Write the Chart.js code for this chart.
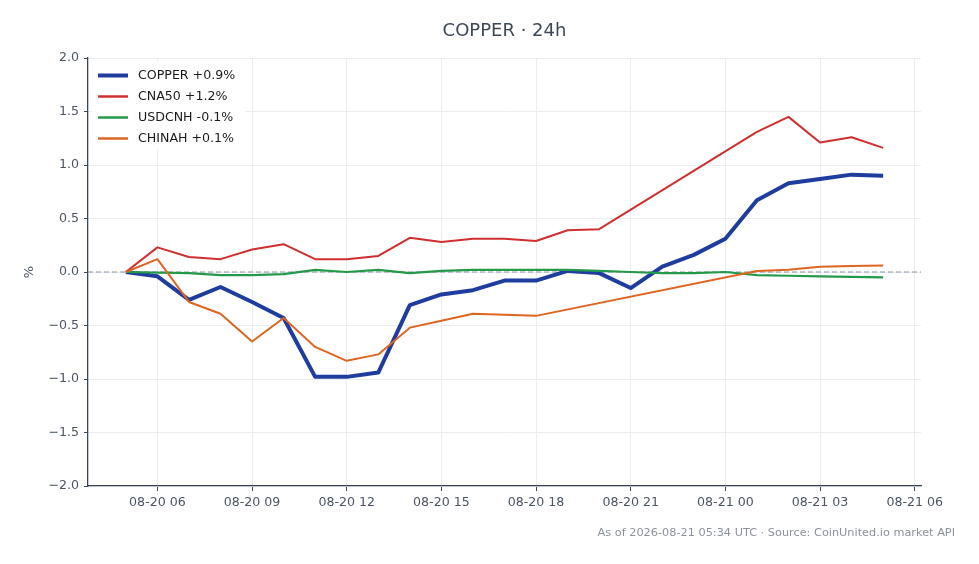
<!DOCTYPE html>
<html>
<head>
<meta charset="utf-8">
<title>COPPER · 24h</title>
<script src="https://cdn.jsdelivr.net/npm/chart.js@4/dist/chart.umd.min.js"></script>
<style>
  html, body { margin: 0; padding: 0; background: #ffffff; }
  canvas { display: block; }
</style>
</head>
<body>
<canvas id="grafico" width="979" height="564"></canvas>
<script>
// horas (UTC), una por punto
const horas = [
  "08-20 05", "08-20 06", "08-20 07", "08-20 08", "08-20 09", "08-20 10", "08-20 11",
  "08-20 12", "08-20 13", "08-20 14", "08-20 15", "08-20 16", "08-20 17", "08-20 18",
  "08-20 19", "08-20 20", "08-20 21", "08-20 22", "08-20 23", "08-21 00", "08-21 01",
  "08-21 02", "08-21 03", "08-21 04", "08-21 05"
];

// variacion en % desde el inicio (null = sin dato)
const copper = [0, -0.04, -0.26, -0.14, -0.28, -0.43, -0.98, -0.98, -0.94, -0.31, -0.21, -0.17, -0.08,
  -0.08, 0.01, -0.01, -0.15, 0.05, 0.16, 0.31, 0.67, 0.83, 0.87, 0.91, 0.90];
const cna50 = [0, 0.23, 0.14, 0.12, 0.21, 0.26, 0.12, 0.12, 0.15, 0.32, 0.28, 0.31, 0.31,
  0.29, 0.39, 0.40, null, null, null, null, 1.31, 1.45, 1.21, 1.26, 1.16];
const usdcnh = [0, -0.005, -0.01, -0.03, -0.03, -0.02, 0.02, 0.0, 0.02, -0.01, 0.01, 0.02, 0.02,
  0.02, 0.02, 0.01, 0.0, -0.01, -0.01, 0.0, -0.03, -0.035, -0.04, -0.045, -0.05];
const chinah = [0, 0.12, -0.28, -0.39, -0.65, -0.43, -0.70, -0.83, -0.77, -0.52, -0.455, -0.39, -0.40,
  -0.41, null, null, null, null, null, null, 0.01, 0.02, 0.05, 0.055, 0.06];

const etiquetasSeries = ["COPPER +0.9%", "CNA50 +1.2%", "USDCNH -0.1%", "CHINAH +0.1%"];
const etiquetasX = ["08-20 06", "08-20 09", "08-20 12", "08-20 15", "08-20 18", "08-20 21",
  "08-21 00", "08-21 03", "08-21 06"];
const ticksY = [-2.0, -1.5, -1.0, -0.5, 0.0, 0.5, 1.0, 1.5, 2.0];

const titulo = "COPPER · 24h";
const pie = "As of 2026-08-21 05:34 UTC · Source: CoinUnited.io market API";

// "08-20 05" -> horas desde 08-20 00:00
function aHoras(txt) {
  const partes = txt.split(" ");
  const dia = parseInt(partes[0].split("-")[1], 10);
  return (dia - 20) * 24 + parseInt(partes[1], 10);
}

const xs = horas.map(aHoras);
const ticksX = etiquetasX.map(aHoras);
const margen = (xs[xs.length - 1] - xs[0]) * 0.05;

const FUENTE = "'DejaVu Sans', 'Liberation Sans', sans-serif";
const COLOR_TEXTO = "#4a5463";
const COLOR_EJE = "#3b4555";

function serie(valores, label, color, ancho) {
  return {
    label: label,
    data: valores.map((v, i) => ({ x: xs[i], y: v })),
    borderColor: color,
    backgroundColor: color,
    borderWidth: ancho,
    pointRadius: 0,
    tension: 0,
    spanGaps: true,
    fill: false,
    borderJoinStyle: "round",
  };
}

const datasets = [
  serie(chinah, etiquetasSeries[3], "#de6522", 2),
  serie(usdcnh, etiquetasSeries[2], "#25994a", 2.2),
  serie(cna50, etiquetasSeries[1], "#cf2f2f", 2),
  serie(copper, etiquetasSeries[0], "#1f3c9f", 4),
];
// orden de la leyenda
const ordenLeyenda = [3, 2, 1, 0];

const extras = {
  id: "extras",
  beforeDatasetsDraw(chart) {
    const { ctx, chartArea, scales } = chart;
    const y0 = scales.y.getPixelForValue(0);
    ctx.save();
    ctx.strokeStyle = "#8a94a3";
    ctx.lineWidth = 1;
    ctx.setLineDash([5, 3]);
    ctx.beginPath();
    ctx.moveTo(chartArea.left, y0);
    ctx.lineTo(chartArea.right, y0);
    ctx.stroke();
    ctx.restore();
  },
  afterDatasetsDraw(chart) {
    const { ctx, chartArea } = chart;
    ctx.save();
    // leyenda
    ctx.fillStyle = "rgba(255,255,255,0.9)";
    ctx.fillRect(chartArea.left + 4, chartArea.top + 4, 154, 88);
    ctx.font = "12.6px " + FUENTE;
    ctx.textBaseline = "middle";
    ctx.textAlign = "left";
    ordenLeyenda.forEach((idx, fila) => {
      const ds = chart.data.datasets[idx];
      const y = chartArea.top + 17.5 + fila * 21;
      ctx.strokeStyle = ds.borderColor;
      ctx.lineWidth = ds.borderWidth === 4 ? 4 : 2.5;
      ctx.beginPath();
      ctx.moveTo(chartArea.left + 10, y);
      ctx.lineTo(chartArea.left + 40, y);
      ctx.stroke();
      ctx.fillStyle = "#1a1a1a";
      ctx.fillText(ds.label, chartArea.left + 50, y + 0.5);
    });
    ctx.restore();
  },
  afterDraw(chart) {
    const { ctx, chartArea } = chart;
    ctx.save();
    // titulo
    ctx.fillStyle = "#3d4857";
    ctx.font = "18px " + FUENTE;
    ctx.textAlign = "center";
    ctx.textBaseline = "middle";
    ctx.fillText(titulo, (chartArea.left + chartArea.right) / 2, 31);
    // etiqueta eje y
    ctx.save();
    ctx.translate(30, (chartArea.top + chartArea.bottom) / 2);
    ctx.rotate(-Math.PI / 2);
    ctx.font = "13px " + FUENTE;
    ctx.fillStyle = COLOR_TEXTO;
    ctx.fillText("%", 0, 0);
    ctx.restore();
    // pie
    ctx.font = "11.3px " + FUENTE;
    ctx.fillStyle = "#8a929e";
    ctx.textAlign = "right";
    ctx.fillText(pie, 955, 533);
    ctx.restore();
  },
};

new Chart(document.getElementById("grafico"), {
  type: "line",
  data: { datasets: datasets },
  options: {
    responsive: false,
    animation: false,
    devicePixelRatio: 1,
    layout: { padding: { left: 0, right: 58, top: 58, bottom: 0 } },
    plugins: {
      legend: { display: false },
      tooltip: { enabled: false },
      title: { display: false },
    },
    scales: {
      x: {
        type: "linear",
        min: xs[0] - margen,
        max: xs[xs.length - 1] + margen,
        afterBuildTicks: (scale) => {
          scale.ticks = ticksX.map((v) => ({ value: v }));
        },
        afterFit: (scale) => { scale.height = 78; },
        ticks: {
          autoSkip: false,
          maxRotation: 0,
          padding: 4,
          color: COLOR_TEXTO,
          font: { family: FUENTE, size: 12.6 },
          callback: (v) => etiquetasX[ticksX.indexOf(v)] || "",
        },
        grid: { color: "#e9ecf1", lineWidth: 1, tickColor: COLOR_EJE, tickLength: 5 },
        border: { color: COLOR_EJE, width: 1.3 },
      },
      y: {
        min: ticksY[0],
        max: ticksY[ticksY.length - 1],
        afterBuildTicks: (scale) => {
          scale.ticks = ticksY.map((v) => ({ value: v }));
        },
        afterFit: (scale) => { scale.width = 88; },
        ticks: {
          padding: 5,
          color: COLOR_TEXTO,
          font: { family: FUENTE, size: 12.6 },
          callback: (v) => v.toFixed(1).replace("-", "\u2212"),
        },
        grid: { color: "#e9ecf1", lineWidth: 1, tickColor: COLOR_EJE, tickLength: 4 },
        border: { color: COLOR_EJE, width: 1.3 },
      },
    },
  },
  plugins: [extras],
});
</script>
</body>
</html>
